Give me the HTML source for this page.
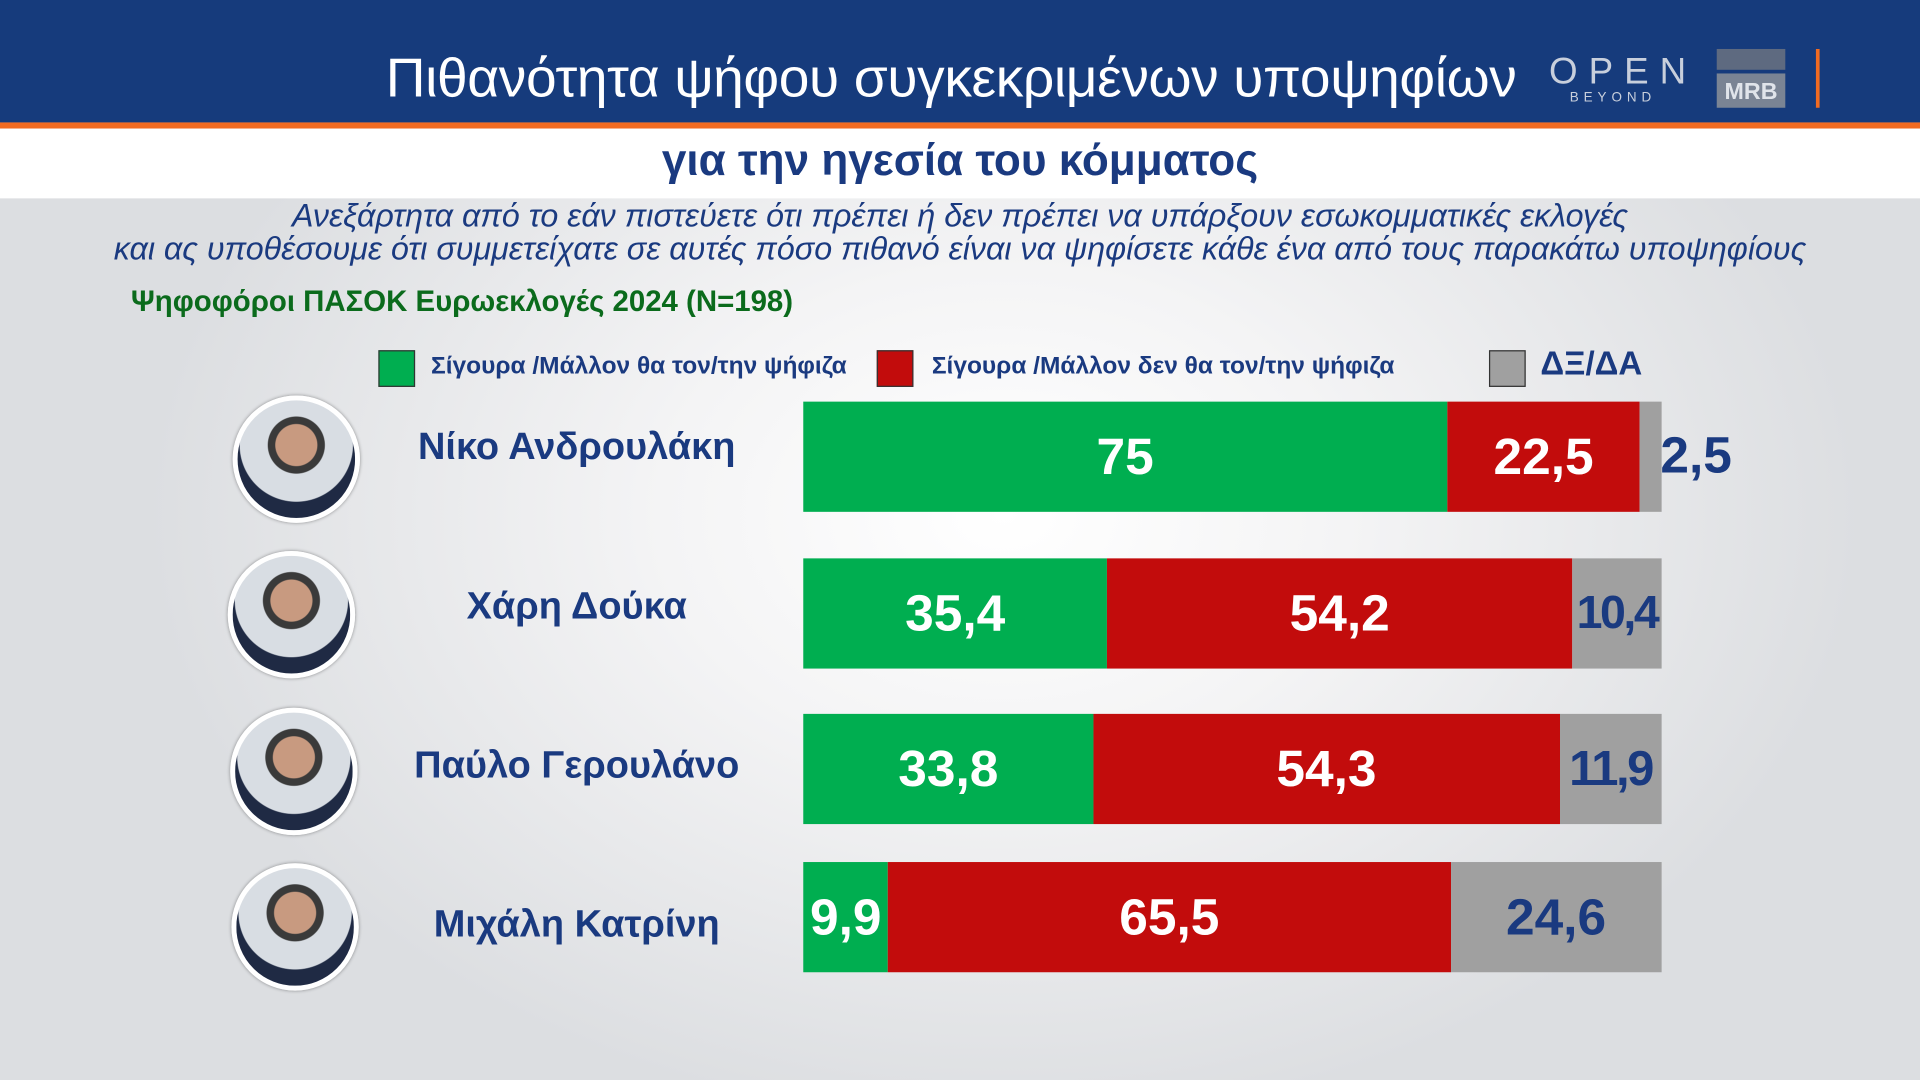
<!DOCTYPE html>
<html><head><meta charset="utf-8">
<style>
html,body{margin:0;padding:0;width:1920px;height:1080px;overflow:hidden;}
#s{position:absolute;left:0;top:0;width:1568px;height:882px;transform:scale(1.22449);transform-origin:0 0;
background:radial-gradient(ellipse 700px 500px at 820px 420px,#ffffff 0%,#f4f4f5 40%,#dcdee1 100%);
font-family:"Liberation Sans Narrow","Liberation Sans",sans-serif;overflow:hidden;}
.a{position:absolute;}
.hdr{left:0;top:0;width:1568px;height:100px;background:#163b7c;}
.org{left:0;top:100px;width:1568px;height:5px;background:#f26b21;}
.wh{left:0;top:105px;width:1568px;height:57px;background:#fff;}
.title{left:315px;top:38px;color:#fff;font-family:"Liberation Sans",sans-serif;font-size:45px;white-space:nowrap;letter-spacing:-0.3px;}
.sub{left:0;width:1568px;top:110px;text-align:center;color:#1a3a80;font-weight:bold;font-size:36px;}
.it{left:0;width:1568px;text-align:center;color:#1a3a80;font-style:italic;font-size:26.3px;}
.grn{left:107px;top:233px;color:#0b6b1c;font-weight:bold;font-size:24px;}
.sq{width:28px;height:28px;border:1px solid #333;top:286px;}
.lg{top:288px;color:#1a3a80;font-weight:bold;font-size:20px;white-space:nowrap;}
.nm{width:300px;left:321px;text-align:center;color:#1a3a80;font-weight:bold;font-size:31px;}
.bar{position:absolute;left:656px;width:701px;height:90px;display:flex;}
.bar div{height:90px;display:flex;align-items:center;justify-content:center;font-weight:bold;font-size:42px;color:#fff;overflow:visible;white-space:nowrap;}
.g{background:#00ae50}.r{background:#c20c0c}.y{background:#a0a0a0;color:#1a3a80 !important}
.ph{width:96px;height:96px;border-radius:50%;border:4px solid #fff;background:radial-gradient(circle at 50% 38%,#c89a80 0 22%,#3a3a3a 23% 30%,#d8dde3 31% 60%,#1f2a44 61%);box-shadow:0 0 3px rgba(0,0,0,.4);}
</style></head><body><div id="s">
<div class="a hdr"></div><div class="a org"></div><div class="a wh"></div>
<div class="a title">Πιθανότητα ψήφου συγκεκριμένων υποψηφίων</div>
<div class="a" style="left:1265px;top:42px;color:#c8cfdc;font-family:'Liberation Sans',sans-serif;font-size:30px;letter-spacing:9px;">OPEN</div>
<div class="a" style="left:1282px;top:74px;color:#c8cfdc;font-family:'Liberation Sans',sans-serif;font-size:11px;letter-spacing:4px;">BEYOND</div>
<div class="a" style="left:1402px;top:40px;width:56px;height:17px;background:#5e6a80;"></div>
<div class="a" style="left:1402px;top:60px;width:56px;height:28px;background:#7a8494;color:#e0e4ea;font-family:'Liberation Sans',sans-serif;font-weight:bold;font-size:19px;text-align:center;line-height:32px;">MRB</div>
<div class="a" style="left:1483px;top:40px;width:3px;height:48px;background:#f26b21;"></div>
<div class="a sub">για την ηγεσία του κόμματος</div>
<div class="a it" style="top:161px;">Ανεξάρτητα από το εάν πιστεύετε ότι πρέπει ή δεν πρέπει να υπάρξουν εσωκομματικές εκλογές</div>
<div class="a it" style="top:188px;">και ας υποθέσουμε ότι συμμετείχατε σε αυτές πόσο πιθανό είναι να ψηφίσετε κάθε ένα από τους παρακάτω υποψηφίους</div>
<div class="a grn">Ψηφοφόροι ΠΑΣΟΚ Ευρωεκλογές 2024 (N=198)</div>
<div class="a sq" style="left:309px;background:#00ae50"></div>
<div class="a lg" style="left:352px;">Σίγουρα /Μάλλον θα τον/την ψήφιζα</div>
<div class="a sq" style="left:716px;background:#c20c0c"></div>
<div class="a lg" style="left:761px;">Σίγουρα /Μάλλον δεν θα τον/την ψήφιζα</div>
<div class="a sq" style="left:1216px;background:#a0a0a0"></div>
<div class="a lg" style="left:1258px;top:282px;font-size:27px;">ΔΞ/ΔΑ</div>

<div class="a ph" style="left:190px;top:323px"></div>
<div class="a ph" style="left:186px;top:450px"></div>
<div class="a ph" style="left:188px;top:578px"></div>
<div class="a ph" style="left:189px;top:705px"></div>

<div class="a nm" style="top:347px">Νίκο Ανδρουλάκη</div>
<div class="a nm" style="top:477px">Χάρη Δούκα</div>
<div class="a nm" style="top:607px">Παύλο Γερουλάνο</div>
<div class="a nm" style="top:737px">Μιχάλη Κατρίνη</div>

<div class="bar" style="top:328px"><div class="g" style="width:75%">75</div><div class="r" style="width:22.5%">22,5</div><div class="y" style="width:2.5%"></div></div>
<div class="a" style="left:1356px;top:348px;color:#1a3a80;font-weight:bold;font-size:42px;">2,5</div>
<div class="bar" style="top:456px"><div class="g" style="width:35.4%">35,4</div><div class="r" style="width:54.2%">54,2</div><div class="y" style="width:10.4%;font-size:38px;letter-spacing:-2px;">10,4</div></div>
<div class="bar" style="top:583px"><div class="g" style="width:33.8%">33,8</div><div class="r" style="width:54.3%">54,3</div><div class="y" style="width:11.9%;font-size:40px;letter-spacing:-2px;">11,9</div></div>
<div class="bar" style="top:704px"><div class="g" style="width:9.9%">9,9</div><div class="r" style="width:65.5%">65,5</div><div class="y" style="width:24.6%">24,6</div></div>
</div></body></html>
